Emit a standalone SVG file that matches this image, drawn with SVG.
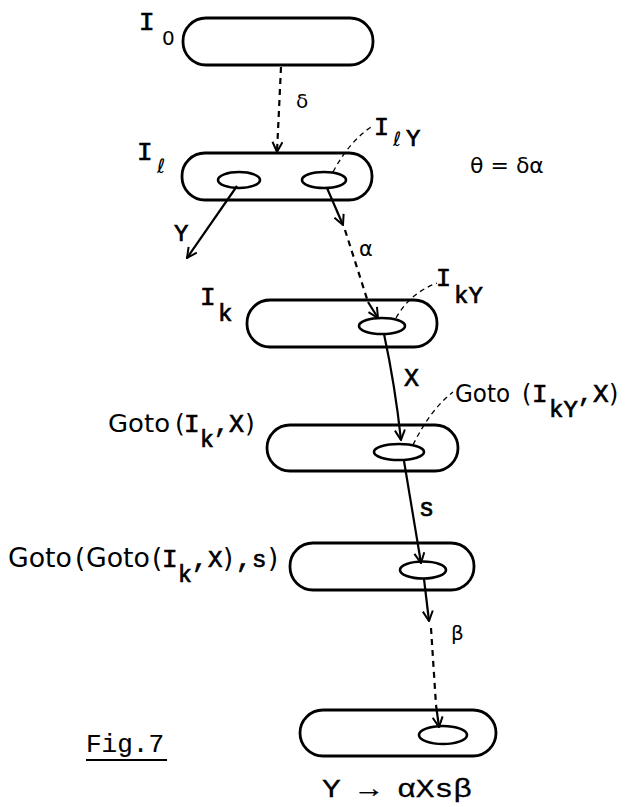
<svg xmlns="http://www.w3.org/2000/svg" width="628" height="807" viewBox="0 0 628 807">
<style>
.node{fill:none;stroke:#000;stroke-width:2.8}
.in{fill:none;stroke:#000;stroke-width:2.6}
.arr{fill:none;stroke:#000;stroke-width:2.2}
.dash{fill:none;stroke:#000;stroke-width:2.2;stroke-dasharray:6 5}
.lead{fill:none;stroke:#000;stroke-width:1.3;stroke-dasharray:5 4}
.m{font-family:"Liberation Mono","DejaVu Sans Mono",monospace;fill:#000;stroke:#000;stroke-width:0.7}
.s{font-family:"DejaVu Sans","Liberation Sans",sans-serif;fill:#000}
</style>
<defs>
<marker id="ah" viewBox="0 0 12 12" refX="11" refY="6" markerWidth="12" markerHeight="12" markerUnits="userSpaceOnUse" orient="auto">
<path d="M1,1 L11,6 L1,11" fill="none" stroke="#000" stroke-width="2"/>
</marker>
</defs>
<rect width="628" height="807" fill="#fff"/>

<g id="I0">
<rect class="node" x="183" y="18" width="190" height="47" rx="23"/>
<text class="m" x="139" y="30" font-size="26">I</text>
<text class="s" x="162" y="45" font-size="20">0</text>
</g>

<g id="Il">
<rect class="node" x="182" y="153" width="190" height="47" rx="23"/>
<ellipse class="in" cx="239" cy="180" rx="21" ry="8"/>
<ellipse class="in" cx="324" cy="180" rx="22" ry="8"/>
<text class="m" x="137" y="160" font-size="26">I</text>
<text class="s" x="157" y="173" font-size="20">ℓ</text>
<text class="m" x="374" y="135" font-size="25">I</text>
<text class="s" x="393" y="146" font-size="20">ℓ</text>
<text class="m" x="406" y="146" font-size="24">Y</text>
</g>

<g id="Ik">
<rect class="node" x="247" y="300" width="190" height="47" rx="23"/>
<ellipse class="in" cx="382" cy="326" rx="23" ry="8"/>
<text class="m" x="200" y="305" font-size="26">I</text>
<text class="m" x="218" y="321" font-size="24">k</text>
<text class="m" x="436" y="286" font-size="25">I</text>
<text class="m" x="454" y="303" font-size="24">kY</text>
</g>

<g id="GotoIkX">
<rect class="node" x="267" y="425" width="191" height="46" rx="23"/>
<ellipse class="in" cx="399" cy="452" rx="25" ry="8"/>
<text x="108" y="432" font-size="25"><tspan class="s" textLength="62" lengthAdjust="spacingAndGlyphs">Goto</tspan><tspan class="s" x="175">(</tspan><tspan class="m" x="184" font-size="26">I</tspan><tspan class="m" x="200" y="447" font-size="23">k</tspan><tspan class="m" x="214" y="432">,</tspan><tspan class="m" x="229">X</tspan><tspan class="s" x="245">)</tspan></text>
<text x="455" y="402" font-size="24"><tspan class="s" textLength="55" lengthAdjust="spacingAndGlyphs">Goto</tspan><tspan class="s" x="522">(</tspan><tspan class="m" x="532" font-size="26">I</tspan><tspan class="m" x="549" y="417" font-size="24">kY</tspan><tspan class="m" x="578" y="402">,</tspan><tspan class="m" x="593" font-size="26">X</tspan><tspan class="s" x="609">)</tspan></text>
</g>

<g id="GotoGoto">
<rect class="node" x="290" y="543" width="184" height="47" rx="23"/>
<ellipse class="in" cx="423" cy="570" rx="23" ry="8.5"/>
<text x="8" y="567" font-size="26"><tspan class="s" textLength="64" lengthAdjust="spacingAndGlyphs">Goto</tspan><tspan class="s" x="75">(</tspan><tspan class="s" x="86" textLength="64" lengthAdjust="spacingAndGlyphs">Goto</tspan><tspan class="s" x="152">(</tspan><tspan class="m" x="162">I</tspan><tspan class="m" x="178" y="582" font-size="23">k</tspan><tspan class="m" x="192" y="567">,</tspan><tspan class="m" x="208" font-size="24">X</tspan><tspan class="s" x="223">)</tspan><tspan class="m" x="236">,</tspan><tspan class="m" x="252" font-size="24">s</tspan><tspan class="s" x="268">)</tspan></text>
</g>

<g id="Final">
<rect class="node" x="300" y="710" width="196" height="46" rx="23"/>
<ellipse class="in" cx="443" cy="735" rx="24" ry="9"/>
</g>

<g id="connectors">
<path class="dash" d="M281,67 L277,152" marker-end="url(#ah)"/>
<path class="arr" d="M237,186 L187,258" marker-end="url(#ah)"/>
<path class="arr" d="M327,188 L343,225" marker-end="url(#ah)"/>
<path class="dash" d="M345,230 L368,302"/>
<path class="arr" d="M368,302 L378,318" marker-end="url(#ah)"/>
<path class="arr" d="M384,334 Q395,385 401,440" marker-end="url(#ah)"/>
<path class="arr" d="M404,461 L421,563" marker-end="url(#ah)"/>
<path class="arr" d="M424,579 L429,621" marker-end="url(#ah)"/>
<path class="dash" d="M431,628 L436,705"/>
<path class="arr" d="M436,705 L439,727" marker-end="url(#ah)"/>
<path class="lead" d="M333,172 Q350,140 374,125"/>
<path class="lead" d="M396,318 Q410,293 437,283"/>
<path class="lead" d="M413,445 Q430,410 453,392"/>
</g>

<g id="labels">
<text class="s" x="296" y="108" font-size="20">δ</text>
<text class="m" x="174" y="241" font-size="24">Y</text>
<text class="s" x="359" y="256" font-size="21">α</text>
<text class="m" x="404" y="386" font-size="25">X</text>
<text class="m" x="419" y="516" font-size="25">s</text>
<text class="s" x="451" y="640" font-size="20">β</text>
<text class="s" x="470" y="173" font-size="22">θ = δα</text>
<text class="m" x="86" y="752" font-size="26" style="stroke-width:0.15">Fig.7</text>
<line x1="86" y1="760" x2="167" y2="760" stroke="#000" stroke-width="2"/>
<text class="m" x="322" y="797" font-size="26" style="stroke-width:0.3" textLength="150" lengthAdjust="spacingAndGlyphs">Y → αXsβ</text>
</g>
</svg>
